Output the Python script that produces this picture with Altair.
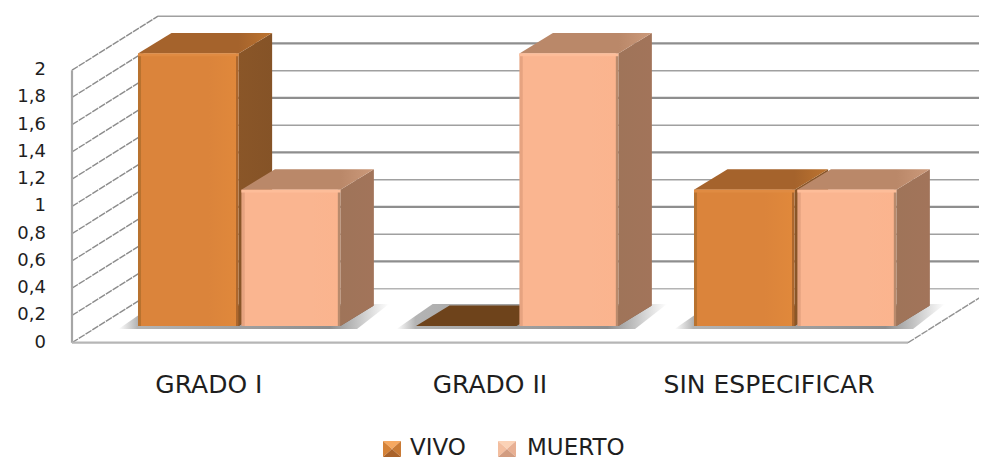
import altair as alt
import pandas as pd

# ---- data ----
categories = ["GRADO I", "GRADO II", "SIN ESPECIFICAR"]
vivo = [2, 0, 1]
muerto = [1, 2, 1]
tick_values = [0, 0.2, 0.4, 0.6, 0.8, 1, 1.2, 1.4, 1.6, 1.8, 2]
tick_labels = ["0", "0,2", "0,4", "0,6", "0,8", "1", "1,2", "1,4", "1,6", "1,8", "2"]
series_names = ["VIVO", "MUERTO"]

# ---- oblique projection, in scale units (u = category step, v = axis value) ----
W, H = 971, 451
U_DOMAIN = [-0.4676, 3.0252]
V_DOMAIN = [-0.8536, 2.4565]
AX_U, END_U = -0.2374, 2.7698       # floor front edge
WALL_DU, WALL_DV = 0.3094, 0.3963   # chart depth
BASE_DV = 0.1226                    # front plane of the bars above the floor edge
DEPTH_DU, DEPTH_DV = 0.1205, 0.15   # depth of a bar
SLOTS = {"VIVO": (0.0, 0.362), "MUERTO": (0.372, 0.728)}
PALETTE = {
    "VIVO": dict(edgeL="#B8722F", front="#DB843B", front2="#E0883B", edgeR="#AD672D", glow="#E08B42",
                 side="#8A5628", side2="#855327", top="#A5632C", top2="#BD7430", bottom="#6E431B"),
    "MUERTO": dict(edgeL="#E6A380", front="#FAB590", front2="#FBB48E", edgeR="#B98A6C", glow="#FDBD99",
                   side="#9F7459", side2="#A2745A", top="#BA8869", top2="#CC9A7B", bottom="#7F5B45"),
}

x_scale = alt.Scale(domain=U_DOMAIN, range=[0, W], nice=False, zero=False)
y_scale = alt.Scale(domain=V_DOMAIN, range=[H, 0], nice=False, zero=False)
X = lambda f="u": alt.X(f"{f}:Q", scale=x_scale, axis=None)
Y = lambda f="v": alt.Y(f"{f}:Q", scale=y_scale, axis=None)


def hgrad(*stops):
    return alt.Gradient(gradient="linear", x1=0, x2=1, y1=0, y2=0,
                        stops=[alt.GradientStop(offset=o, color=c) for o, c in stops])


def band(rows, fill, opacity=1.0):
    return alt.Chart(pd.DataFrame(rows, columns=["u", "v", "v2"])).mark_area(
        fill=fill, opacity=opacity, interpolate="linear", clip=True
    ).encode(x=X(), y=Y(), y2=alt.Y2("v2:Q"))


def para(u0, u1, v, du, dv):
    """horizontal-edged parallelogram: front edge u0..u1 at v, back edge shifted by du, dv"""
    return [(u0, v, v), (u0 + du, v + dv, v), (u1, v + dv, v), (u1 + du, v + dv, v + dv)]


def poly_line(rows, color, width, dash=None):
    kw = dict(strokeDash=dash) if dash else {}
    return alt.Chart(pd.DataFrame(rows, columns=["u", "v", "k"])).mark_line(
        color=color, strokeWidth=width, clip=True, **kw
    ).encode(x=X(), y=Y(), detail="k:N", order="o:Q").transform_window(o="row_number()", groupby=["k"])


layers = []

# ---- value-axis labels, placed through the y scale ----
axis_df = pd.DataFrame({"v": tick_values, "label": tick_labels})
layers.append(alt.Chart(axis_df).mark_text(
    font="DejaVu Sans", fontSize=18, color="#1E1E1E", align="right", baseline="middle"
).encode(x=alt.value(38), y=Y(), text="label:N"))

# ---- walls and grid ----
right_u = END_U + WALL_DU
diag = []
for t in tick_values:
    diag += [(AX_U, t, t), (AX_U + WALL_DU, t + WALL_DV, t)]
layers.append(poly_line(diag, "#8C8C8C", 1.4, [7, 1]))
for i, t in enumerate(tick_values):
    thick = i % 2 == 1
    col = "#8E8E8E" if thick else "#A0A0A0"
    if t == 0:
        col = "#B4B4B4"
    layers.append(poly_line([(AX_U + WALL_DU, t + WALL_DV, t), (right_u, t + WALL_DV, t)],
                            col, 2.3 if thick else 1.4))
# axis wall, floor edge, right floor edge
layers.append(poly_line([(AX_U, 0, "a"), (AX_U, 2, "a")], "#A6A6A6", 2.2))
layers.append(poly_line([(AX_U, 0, "f"), (END_U, 0, "f")], "#B6B6B6", 2.2))
layers.append(poly_line([(END_U, 0, "r"), (right_u, WALL_DV, "r")], "#929292", 1.4, [7, 1]))

# ---- bars ----
for i, cat in enumerate(categories):
    u0 = i + SLOTS["VIVO"][0]
    u1 = i + SLOTS["MUERTO"][1]
    # soft floor shadow
    y_low, y_high = BASE_DV - 0.022, BASE_DV + DEPTH_DV + 0.012
    layers.append(band([(u0 - 0.07, y_low, y_low), (u0 + 0.06, y_high, y_low),
                        (u1 + 0.06, y_high, y_low), (u1 + 0.175, y_high, y_high)],
                       hgrad((0, "#FFFFFF"), (0.07, "#B4B4B4"), (0.78, "#8E8E8E"), (1, "#FFFFFF"))))

for s in series_names:
    pal = PALETTE[s]
    values = vivo if s == "VIVO" else muerto
    for i, val in enumerate(values):
        a, b = SLOTS[s]
        u0, u1 = i + a, i + b
        base = BASE_DV
        top = val + BASE_DV
        # bottom face
        layers.append(band(para(u0, u1, base, DEPTH_DU, DEPTH_DV), pal["bottom"]))
        if val <= 0:
            continue
        # right side face
        layers.append(band([(u1, top, base), (u1 + DEPTH_DU, top + DEPTH_DV, base + DEPTH_DV)],
                           hgrad((0, pal["side"]), (1, pal["side2"]))))
        # top face
        layers.append(band(para(u0, u1, top, DEPTH_DU, DEPTH_DV),
                           hgrad((0, pal["top"]), (0.75, pal["top"]), (1, pal["top2"]))))
        # front face
        front = pd.DataFrame([{"u": u0, "u2": u1, "v": top, "v2": base, "series": s,
                               "cat": categories[i], "value": val}])
        layers.append(alt.Chart(front).mark_rect(
            fill=hgrad((0, pal["edgeL"]), (0.03, pal["edgeL"]), (0.035, pal["front"]),
                       (0.7, pal["front"]), (0.97, pal["front2"]), (0.975, pal["edgeR"]), (1, pal["edgeR"]))
        ).encode(x=X(), x2="u2:Q", y=Y(), y2="v2:Q"))
        # bevel highlight along the top edge
        glow = pd.DataFrame([{"u": u0, "u2": u1, "v": top, "v2": top - 0.02}])
        layers.append(alt.Chart(glow).mark_rect(fill=pal["glow"]).encode(
            x=X(), x2="u2:Q", y=Y(), y2="v2:Q"))

# ---- category labels ----
LABEL_DU = [0.255, 1.266, 2.27]
LABEL_V = -0.313
cat_df = pd.DataFrame({"u": LABEL_DU, "v": [LABEL_V] * 3, "label": categories})
layers.append(alt.Chart(cat_df).mark_text(
    font="DejaVu Sans", fontSize=25, color="#1E1E1E", align="center", baseline="middle"
).encode(x=X(), y=Y(), text="label:N"))

# ---- legend ----
LEG_Y = 440
leg_items = [("VIVO", 375, 402, "#F6A860", "#D58237", "#C97A35", "#A9622A"),
             ("MUERTO", 490, 519, "#FBD2B6", "#F3BE9F", "#E8B093", "#D29C80")]
for name, sx, tx, c_top, c_left, c_right, c_bot in leg_items:
    base_df = pd.DataFrame([{"name": name}])
    for path, col in [("M-1,-0.9L1,-0.9L0,0Z", c_top), ("M-1,-0.9L0,0L-1,0.9Z", c_left),
                      ("M1,-0.9L0,0L1,0.9Z", c_right), ("M-1,0.9L0,0L1,0.9Z", c_bot)]:
        layers.append(alt.Chart(base_df).mark_point(
            shape=path, size=324, filled=True, color=col, opacity=1
        ).encode(x=alt.value(sx + 9), y=alt.value(LEG_Y + 1)))
    layers.append(alt.Chart(base_df).mark_text(
        font="DejaVu Sans", fontSize=23, color="#1E1E1E", align="left", baseline="middle"
    ).encode(x=alt.value(tx), y=alt.value(LEG_Y), text="name:N"))

chart = alt.layer(*layers).properties(
    width=W, height=H, padding=0, autosize=alt.AutoSizeParams(type="none")
).configure_view(stroke=None).resolve_scale(x="shared", y="shared")

chart.save("out.html", embed_options={"renderer": "svg", "actions": False})
